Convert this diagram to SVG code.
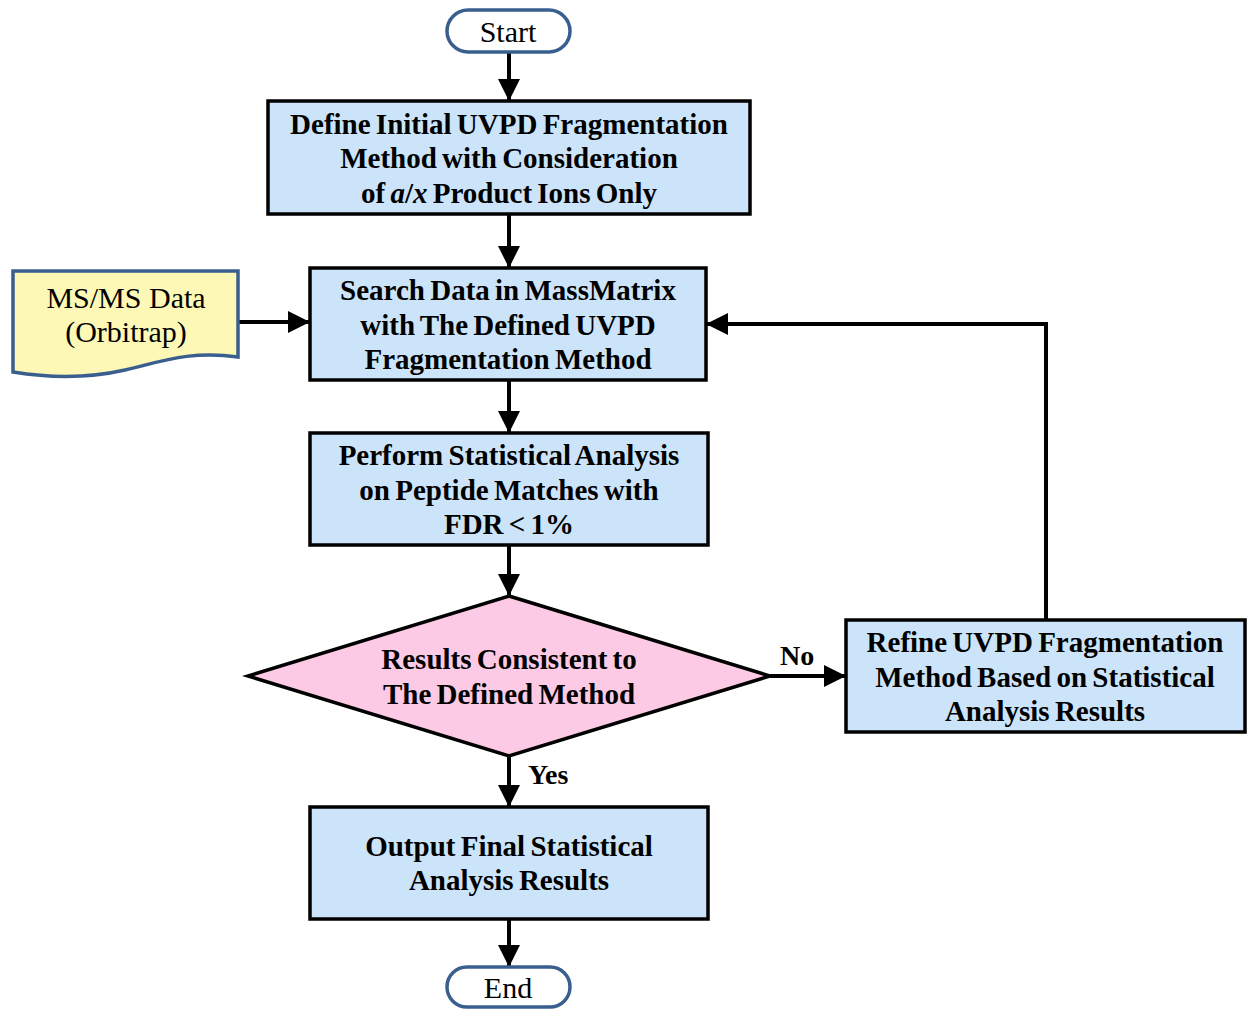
<svg xmlns="http://www.w3.org/2000/svg" width="1248" height="1015" viewBox="0 0 1248 1015">
<style>
.box{fill:#CCE4FA;stroke:#000;stroke-width:3.5}
.term{fill:#fff;stroke:#3A5F8F;stroke-width:3.5}
.dec{fill:#FCCAE4;stroke:#000;stroke-width:3.5}
.doc{fill:#FDF8B5;stroke:#3A5F8F;stroke-width:3.5}
.b{font-family:"Liberation Serif","Times New Roman",serif;font-weight:bold;font-size:29px;text-anchor:middle;fill:#000;word-spacing:-2px}
.r{font-family:"Liberation Serif","Times New Roman",serif;font-size:30px;text-anchor:middle;fill:#000}
.lbl{font-family:"Liberation Serif","Times New Roman",serif;font-weight:bold;font-size:28px;fill:#000}
.c{fill:none;stroke:#000;stroke-width:4}
</style>
<defs>
<marker id="ah" viewBox="0 0 10 10" refX="10" refY="5" markerWidth="5.5" markerHeight="5.5" orient="auto" markerUnits="strokeWidth">
<path d="M0,0 L10,5 L0,10 z" fill="#000"/>
</marker>
</defs>
<g id="connectors">
<path class="c" d="M509,52 V101" marker-end="url(#ah)"/>
<path class="c" d="M509,214 V268" marker-end="url(#ah)"/>
<path class="c" d="M238,322 H310" marker-end="url(#ah)"/>
<path class="c" d="M509,380 V433" marker-end="url(#ah)"/>
<path class="c" d="M509,545 V596" marker-end="url(#ah)"/>
<path class="c" d="M509,756 V807" marker-end="url(#ah)"/>
<path class="c" d="M770,676 H846" marker-end="url(#ah)"/>
<path class="c" d="M1046,620 V324 H706" marker-end="url(#ah)"/>
<path class="c" d="M509,919 V967" marker-end="url(#ah)"/>
<text class="lbl" x="528" y="784">Yes</text>
<text class="lbl" x="780" y="665">No</text>
</g>
<g id="start">
<rect class="term" x="447" y="10" width="123" height="42" rx="21"/>
<text class="r" x="508" y="42">Start</text>
</g>
<g id="define">
<rect class="box" x="268" y="101" width="482" height="113"/>
<text class="b" x="509" y="134">Define Initial UVPD Fragmentation</text>
<text class="b" x="509" y="168">Method with Consideration</text>
<text class="b" x="509" y="203">of <tspan font-style="italic">a</tspan>/<tspan font-style="italic">x</tspan> Product Ions Only</text>
</g>
<g id="data">
<path class="doc" d="M13,271 H238 V357 C190,350 160,362 125,370 C90,378 50,378 13,372 Z"/>
<text class="r" x="126" y="308">MS/MS Data</text>
<text class="r" x="126" y="342">(Orbitrap)</text>
</g>
<g id="search">
<rect class="box" x="310" y="268" width="396" height="112"/>
<text class="b" x="508" y="300">Search Data in MassMatrix</text>
<text class="b" x="508" y="335">with The Defined UVPD</text>
<text class="b" x="508" y="369">Fragmentation Method</text>
</g>
<g id="stats">
<rect class="box" x="310" y="433" width="398" height="112"/>
<text class="b" x="509" y="465">Perform Statistical Analysis</text>
<text class="b" x="509" y="500">on Peptide Matches with</text>
<text class="b" x="509" y="534">FDR &lt; 1%</text>
</g>
<g id="decision">
<path class="dec" d="M509,596 L770,676 L509,756 L248,676 Z"/>
<text class="b" x="509" y="669">Results Consistent to</text>
<text class="b" x="509" y="704">The Defined Method</text>
</g>
<g id="refine">
<rect class="box" x="846" y="620" width="399" height="112"/>
<text class="b" x="1045" y="652">Refine UVPD Fragmentation</text>
<text class="b" x="1045" y="687">Method Based on Statistical</text>
<text class="b" x="1045" y="721">Analysis Results</text>
</g>
<g id="output">
<rect class="box" x="310" y="807" width="398" height="112"/>
<text class="b" x="509" y="856">Output Final Statistical</text>
<text class="b" x="509" y="890">Analysis Results</text>
</g>
<g id="end">
<rect class="term" x="447" y="967" width="123" height="40" rx="20"/>
<text class="r" x="508" y="998">End</text>
</g>
</svg>
